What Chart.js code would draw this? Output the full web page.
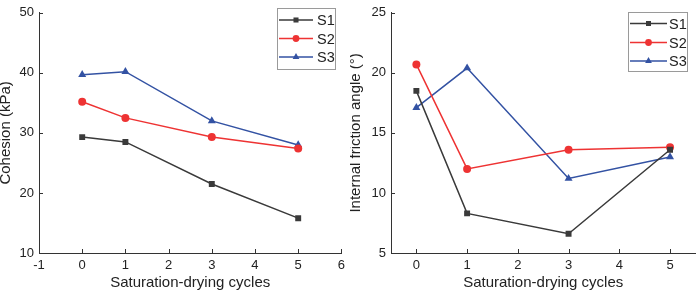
<!DOCTYPE html>
<html>
<head>
<meta charset="utf-8">
<script src="https://cdn.jsdelivr.net/npm/chart.js@4/dist/chart.umd.min.js"></script>
<style>
    body { margin: 0; background: #fff; }
    .panel { position: absolute; top: 0; width: 350px; height: 290px; }
    #leftPanel { left: 0; }
    #rightPanel { left: 350px; }
</style>
</head>
<body>
<div class="panel" id="leftPanel"><canvas id="cohesionChart" width="350" height="290"></canvas></div>
<div class="panel" id="rightPanel"><canvas id="frictionChart" width="350" height="290"></canvas></div>
<script>
// Data
const cycles = [0, 1, 3, 5];
const seriesNames = ['S1', 'S2', 'S3'];
const cohesionS1 = [29.3, 28.5, 21.5, 15.8];
const cohesionS2 = [35.2, 32.5, 29.3, 27.4];
const cohesionS3 = [39.7, 40.2, 32.0, 28.0];
const frictionS1 = [18.5, 8.3, 6.6, 13.6];
const frictionS2 = [20.7, 12.0, 13.6, 13.8];
const frictionS3 = [17.1, 20.4, 11.2, 13.0];
const cohesionXTicks = [-1, 0, 1, 2, 3, 4, 5, 6];
const frictionXTicks = [0, 1, 2, 3, 4, 5];

const FONT = 'Liberation Sans, Arial, sans-serif';
const TEXT_COLOR = '#222';
const AXIS_COLOR = '#333';

const seriesStyle = [
    { color: '#3a3a3a', pointStyle: 'rect', radius: 4.2 },
    { color: '#ee3333', pointStyle: 'circle', radius: 4 },
    { color: '#3352a3', pointStyle: 'triangle', radius: 4.6 },
];

function makeDatasets(valueLists) {
    return valueLists.map((values, i) => ({
        label: seriesNames[i],
        data: cycles.map((c, j) => ({ x: c, y: values[j] })),
        showLine: true,
        borderColor: seriesStyle[i].color,
        backgroundColor: seriesStyle[i].color,
        borderWidth: 1.5,
        pointStyle: seriesStyle[i].pointStyle,
        pointRadius: seriesStyle[i].radius,
        pointBorderWidth: 0,
        tension: 0,
    }));
}

// inward tick marks on both axes
const innerTicks = {
    id: 'innerTicks',
    afterDraw(chart) {
        const ctx = chart.ctx;
        const area = chart.chartArea;
        ctx.save();
        ctx.strokeStyle = AXIS_COLOR;
        ctx.lineWidth = 1;
        ctx.beginPath();
        chart.scales.x.ticks.forEach(t => {
            const px = Math.round(chart.scales.x.getPixelForValue(t.value)) + 0.5;
            ctx.moveTo(px, area.bottom);
            ctx.lineTo(px, area.bottom - 4);
        });
        chart.scales.y.ticks.forEach(t => {
            const py = Math.round(chart.scales.y.getPixelForValue(t.value)) + 0.5;
            ctx.moveTo(area.left, py);
            ctx.lineTo(area.left + 4, py);
        });
        ctx.stroke();
        ctx.restore();
    }
};

// boxed legend with line + marker samples
const boxLegend = {
    id: 'boxLegend',
    afterDraw(chart, args, opts) {
        const ctx = chart.ctx;
        ctx.save();
        ctx.strokeStyle = '#9a9a9a';
        ctx.lineWidth = 1;
        ctx.strokeRect(opts.left + 0.5, opts.top + 0.5, opts.width, opts.height);
        chart.data.datasets.forEach((ds, i) => {
            const y = opts.top + opts.rows[i];
            ctx.strokeStyle = ds.borderColor;
            ctx.lineWidth = 1.5;
            ctx.beginPath();
            ctx.moveTo(opts.lineStart, y);
            ctx.lineTo(opts.lineEnd, y);
            ctx.stroke();
            ctx.fillStyle = ds.backgroundColor;
            Chart.helpers.drawPoint(ctx, {
                pointStyle: ds.pointStyle, radius: ds.pointRadius * 0.85, rotation: 0, borderWidth: 0
            }, (opts.lineStart + opts.lineEnd) / 2, y);
            ctx.fillStyle = TEXT_COLOR;
            ctx.font = '14.5px ' + FONT;
            ctx.textBaseline = 'middle';
            ctx.textAlign = 'left';
            ctx.fillText(ds.label, opts.textX, y + 1);
        });
        ctx.restore();
    }
};

function makeChart(canvasId, datasets, xRange, xTicks, yRange, yStep, yTitle, yAxisWidth, legendOpts) {
    return new Chart(document.getElementById(canvasId), {
        type: 'scatter',
        data: { datasets },
        options: {
            responsive: false,
            animation: false,
            layout: { padding: { top: 5, right: 1, left: 0, bottom: 0 } },
            plugins: {
                legend: { display: false },
                tooltip: { enabled: false },
                boxLegend: legendOpts,
            },
            scales: {
                x: {
                    type: 'linear',
                    min: xRange[0],
                    max: xRange[1],
                    afterBuildTicks: scale => {
                        scale.ticks = xTicks.map(v => ({ value: v }));
                    },
                    ticks: { padding: 5, color: TEXT_COLOR, font: { family: FONT, size: 13 } },
                    grid: { display: false, drawTicks: false },
                    border: { display: true, color: AXIS_COLOR, width: 1 },
                    title: {
                        display: true, text: 'Saturation-drying cycles', color: TEXT_COLOR,
                        font: { family: FONT, size: 15, lineHeight: 1 }, padding: { top: 0, bottom: 0 }
                    },
                    afterFit: s => { s.height = 37; },
                },
                y: {
                    min: yRange[0],
                    max: yRange[1],
                    ticks: { stepSize: yStep, padding: 5, color: TEXT_COLOR, font: { family: FONT, size: 13 } },
                    grid: { display: false, drawTicks: false },
                    border: { display: true, color: AXIS_COLOR, width: 1 },
                    title: {
                        display: true, text: yTitle, color: TEXT_COLOR,
                        font: { family: FONT, size: 15, lineHeight: 0.72 }, padding: { top: 0, bottom: 0 }
                    },
                    afterFit: s => { s.width = yAxisWidth; },
                },
            },
        },
        plugins: [innerTicks, boxLegend],
    });
}

makeChart('cohesionChart',
    makeDatasets([cohesionS1, cohesionS2, cohesionS3]),
    [-1, 6], cohesionXTicks, [10, 50], 10, 'Cohesion (kPa)', 39,
    { left: 277, top: 8, width: 58, height: 61, rows: [12, 30.5, 49], lineStart: 279, lineEnd: 313, textX: 317 });

makeChart('frictionChart',
    makeDatasets([frictionS1, frictionS2, frictionS3]),
    [-0.5, 5.5], frictionXTicks, [5, 25], 5, 'Internal friction angle (°)', 41,
    { left: 278, top: 12, width: 59, height: 59, rows: [11.5, 30.5, 49], lineStart: 280, lineEnd: 317, textX: 319 });
</script>
</body>
</html>
